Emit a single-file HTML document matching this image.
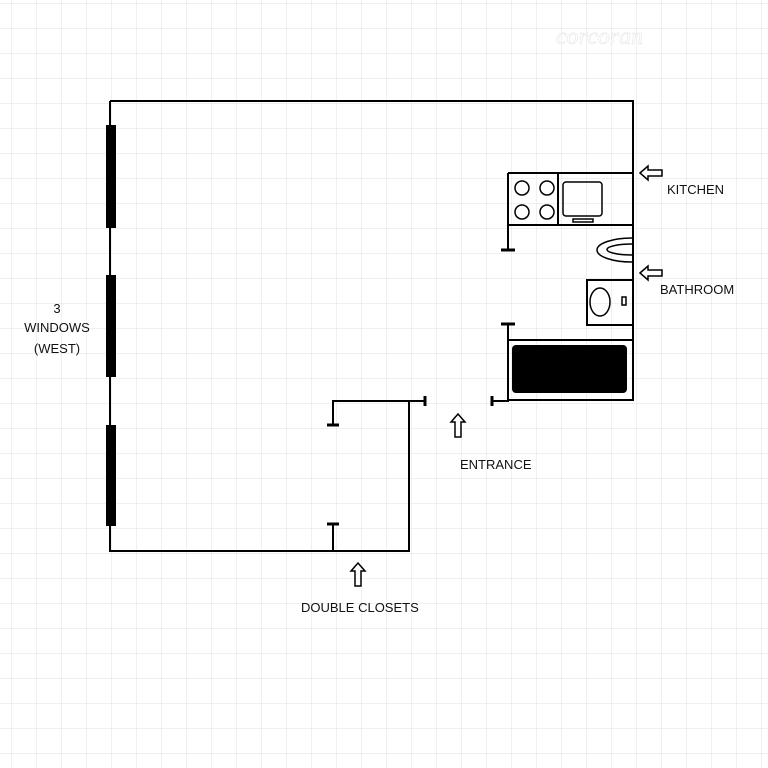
<!DOCTYPE html>
<html><head><style>html,body{margin:0;padding:0;background:#fff}svg{display:block}</style></head><body>
<svg width="768" height="768" xmlns="http://www.w3.org/2000/svg" font-family="Liberation Sans, sans-serif">
<defs>
<pattern id="g" x="11" y="3" width="25" height="25" patternUnits="userSpaceOnUse">
<path d="M0 0H25M0 0V25" stroke="#e2e2e2" stroke-width="1" fill="none"/>
</pattern>
</defs>
<rect width="768" height="768" fill="url(#g)"/>
<text x="556" y="44" font-family="Liberation Serif, serif" font-style="italic" font-size="24" fill="#fff" stroke="#e6e6e6" stroke-width="0.6">corcoran</text>
<g stroke="#000" stroke-width="2" fill="none">
<path d="M110 101H633V400H508V340"/>
<path d="M110 101V551H409V401H333V425"/>
<path d="M409 401H425"/>
<path d="M492 401H508V400"/>
<path d="M333 551V524"/>
<path d="M508 173H633"/>
<path d="M508 173V250"/>
<path d="M508 225H633"/>
<path d="M558 173V225"/>
<path d="M508 340H633"/>
<path d="M508 324V340"/>
<rect x="587" y="280" width="46" height="45"/>
</g>
<g stroke="#000" stroke-width="3" fill="none">
<path d="M327 425H339M327 524H339M425 396V406M492 396V406M501 250H515M501 324H515"/>
</g>
<g fill="#000">
<rect x="106" y="125" width="10" height="103"/>
<rect x="106" y="275" width="10" height="102"/>
<rect x="106" y="425" width="10" height="101"/>
<rect x="512" y="345" width="115" height="48" rx="4"/>
</g>
<g stroke="#000" stroke-width="1.5" fill="none">
<circle cx="522" cy="188" r="7"/><circle cx="547" cy="188" r="7"/>
<circle cx="522" cy="212" r="7"/><circle cx="547" cy="212" r="7"/>
<rect x="563" y="182" width="39" height="34" rx="3"/>
<rect x="573" y="219" width="20" height="3"/>
<path d="M632 238 A35 12 0 0 0 632 262"/>
<path d="M632 244 A25 5.5 0 0 0 632 255"/>
<ellipse cx="600" cy="302" rx="10" ry="14"/>
<rect x="622" y="297" width="4" height="8"/>
<path d="M640 173L648 166V170H662V176H648V180Z"/>
<path d="M640 273L648 266V270H662V276H648V280Z"/>
<path d="M458 414L465 422H461V437H455V422H451Z"/>
<path d="M358 563L365 571H361V586H355V571H351Z"/>
</g>
<g font-size="13" fill="#111">
<text x="667" y="194">KITCHEN</text>
<text x="660" y="294">BATHROOM</text>
<text x="460" y="469">ENTRANCE</text>
<text x="301" y="612">DOUBLE CLOSETS</text>
<text x="57" y="313" text-anchor="middle">3</text>
<text x="57" y="332" text-anchor="middle">WINDOWS</text>
<text x="57" y="353" text-anchor="middle">(WEST)</text>
</g>
</svg>
</body></html>
